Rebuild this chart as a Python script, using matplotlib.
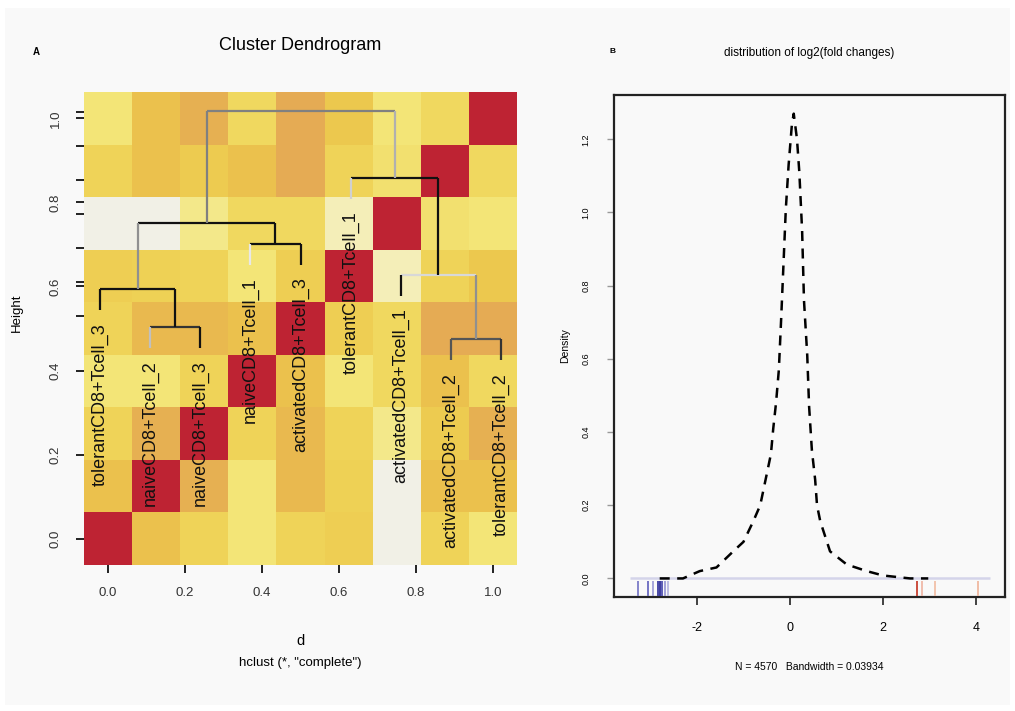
import numpy as np
import matplotlib.pyplot as plt
from matplotlib.colors import LinearSegmentedColormap
from matplotlib.patches import Rectangle

plt.rcParams['font.family'] = ['Liberation Sans', 'DejaVu Sans']
plt.rcParams['axes.unicode_minus'] = False

# sample correlation matrix (heatmap, row 0 drawn at the bottom)
cor_mat = [
    [1.00, 0.93, 0.90, 0.86, 0.90, 0.91, 0.80, 0.90, 0.86],
    [0.93, 1.00, 0.96, 0.86, 0.94, 0.905, 0.80, 0.93, 0.93],
    [0.90, 0.96, 1.00, 0.90, 0.94, 0.90, 0.85, 0.915, 0.96],
    [0.86, 0.86, 0.90, 1.00, 0.93, 0.86, 0.89, 0.93, 0.89],
    [0.90, 0.94, 0.94, 0.93, 1.00, 0.91, 0.89, 0.97, 0.97],
    [0.91, 0.905, 0.90, 0.86, 0.91, 1.00, 0.83, 0.90, 0.92],
    [0.80, 0.80, 0.85, 0.89, 0.89, 0.83, 1.00, 0.87, 0.86],
    [0.90, 0.93, 0.915, 0.93, 0.97, 0.90, 0.87, 1.00, 0.89],
    [0.86, 0.93, 0.96, 0.89, 0.97, 0.92, 0.86, 0.89, 1.00],
]
heat_ticks = [0.0, 0.2, 0.4, 0.6, 0.8, 1.0]

# hclust result, leaves in plotting order
leaf_labels = ["tolerantCD8+Tcell_3", "naiveCD8+Tcell_2", "naiveCD8+Tcell_3",
               "naiveCD8+Tcell_1", "activatedCD8+Tcell_3", "tolerantCD8+Tcell_1",
               "activatedCD8+Tcell_1", "activatedCD8+Tcell_2", "tolerantCD8+Tcell_2"]
merge = [(-2, -3), (-1, 1), (-4, -5), (2, 3), (-8, -9), (-7, 5), (-6, 6), (4, 7)]
merge_height = [0.468, 0.579, 0.712, 0.774, 0.432, 0.621, 0.906, 1.103]
hang = 0.062
height_ticks = [0.5, 0.6, 0.7, 0.8, 0.9, 1.0, 1.1]

# density of log2 fold changes
dens_x = [-2.80, -2.30, -1.94, -1.58, -1.22, -1.00, -0.79, -0.64, -0.50, -0.41,
          -0.36, -0.30, -0.24, -0.19, -0.15, -0.09, -0.03, 0.04, 0.08, 0.15,
          0.20, 0.26, 0.30, 0.37, 0.41, 0.47, 0.54, 0.58, 0.65, 0.86,
          1.22, 1.65, 2.00, 2.58, 2.97]
dens_y = [0.0, 0.0, 0.02, 0.03, 0.074, 0.10, 0.156, 0.20, 0.285, 0.34,
          0.41, 0.48, 0.57, 0.71, 0.83, 1.01, 1.13, 1.24, 1.27, 1.20,
          1.11, 0.95, 0.76, 0.61, 0.47, 0.35, 0.27, 0.20, 0.156, 0.074,
          0.038, 0.02, 0.008, 0.0, 0.0]
fc_range = [-3.44, 4.30]
rug_down = [-3.27, -3.05, -2.95, -2.84, -2.80, -2.76, -2.69, -2.62]
rug_up = [2.73, 2.84, 3.12, 4.04]
rug_down_col = ['#7b7bc8', '#6a6ac0', '#a0a0d8', '#3a3aa0', '#2e2e98', '#5050b0', '#9a9ad6', '#b8b8e2']
rug_up_col = ['#c84030', '#f0b8a8', '#f2c0a8', '#f0b8a0']

fig = plt.figure(figsize=(10.15, 7.11), dpi=100)
fig.patch.set_facecolor('white')
fig.add_artist(Rectangle((0.005, 0.008), 0.99, 0.981, transform=fig.transFigure,
                         facecolor='#f9f9f9', edgecolor='none', zorder=-10))

# ---- left: correlation heatmap with dendrogram on top ----
rect = [0.0828, 0.2053, 0.4266, 0.6653]
ax = fig.add_axes(rect)
ax.set_facecolor('none')
cmap = LinearSegmentedColormap.from_list('corr', [
    (0.0, '#F1F0E6'), (0.15, '#F4EEB8'), (0.28, '#F3E67A'), (0.48, '#EFD65A'),
    (0.62, '#ECC64C'), (0.72, '#E8B650'), (0.88, '#E4A955'), (0.93, '#BE2333'),
    (1.0, '#BE2333')])
n = len(cor_mat)
edges = np.linspace(-0.5 / (n - 1), 1 + 0.5 / (n - 1), n + 1)
ax.pcolormesh(edges, edges, np.array(cor_mat), cmap=cmap, vmin=0.80, vmax=1.0)
ax.set_xlim(edges[0], edges[-1])
ax.set_ylim(edges[0], edges[-1])
for s in ax.spines.values():
    s.set_visible(False)
ax.set_xticks(heat_ticks)
ax.set_xticklabels([f"{t:.1f}" for t in heat_ticks])
ax.set_yticks(heat_ticks)
ax.set_yticklabels([f"{t:.1f}" for t in heat_ticks], rotation=90, va='center')
ax.tick_params(length=6, width=1.4, color='#222222', labelsize=9.5,
               labelcolor='#333333', pad=10)

# dendrogram drawn in its own Height coordinates over the heatmap
dax = fig.add_axes(rect)
dax.patch.set_visible(False)
for s in dax.spines.values():
    s.set_visible(False)
dax.set_xlim(1 - 0.04 * (n - 1), n + 0.04 * (n - 1))
dax.set_ylim(-0.232, 1.159)
dax.set_xticks([])
dax.set_yticks(height_ticks)
dax.set_yticklabels([])
dax.tick_params(axis='y', length=6, width=1.4, color='#222222')

seg_cols = [('#333333', '#c0c0c0', '#111111'),
            ('#111111', '#111111', '#111111'),
            ('#111111', '#e8e8e8', '#111111'),
            ('#111111', '#909090', '#111111'),
            ('#555555', '#555555', '#333333'),
            ('#d8d8d8', '#111111', '#909090'),
            ('#111111', '#d0d0d0', '#111111'),
            ('#808080', '#808080', '#b0b0b0')]
node_x = {}
parent_h = {}
for i, (a, b) in enumerate(merge, start=1):
    h = merge_height[i - 1]
    xs, tops = [], []
    for c in (a, b):
        if c < 0:
            xs.append(float(-c))
            tops.append(h - hang)
            parent_h[-c] = h
        else:
            xs.append(node_x[c])
            tops.append(merge_height[c - 1])
    node_x[i] = (xs[0] + xs[1]) / 2
    hc, lc, rc = seg_cols[i - 1]
    dax.plot(xs, [h, h], color=hc, lw=1.6, solid_capstyle='butt')
    dax.plot([xs[0], xs[0]], [h, tops[0]], color=lc, lw=1.6, solid_capstyle='butt')
    dax.plot([xs[1], xs[1]], [h, tops[1]], color=rc, lw=1.6, solid_capstyle='butt')

for k, lab in enumerate(leaf_labels, start=1):
    dax.annotate(lab, (k, parent_h[k] - hang), xytext=(0, -9),
                 textcoords='offset points', rotation=90, ha='center', va='top',
                 fontsize=13, color='#111111')

fig.text(0.2961, 0.936, "Cluster Dendrogram", ha='center', va='center', fontsize=13)
fig.text(0.2961, 0.099, "d", ha='center', va='center', fontsize=10.5)
fig.text(0.2961, 0.068, 'hclust (*, "complete")', ha='center', va='center', fontsize=9.5)
fig.text(0.017, 0.56, "Height", rotation=90, ha='center', va='center', fontsize=9.5)
fig.text(0.036, 0.927, "A", ha='center', va='center', fontsize=7, fontweight='bold')

# ---- right: density of fold changes ----
bx = fig.add_axes([0.605, 0.1603, 0.3852, 0.706])
bx.set_facecolor('none')
bx.hlines(0, fc_range[0], fc_range[1], color='#d4d4ea', lw=1.8, zorder=1)
bx.plot(dens_x, dens_y, color='black', lw=1.8, dashes=(4, 3), zorder=2)
bx.vlines(rug_down, -0.049, -0.008, colors=rug_down_col, lw=1.3, zorder=3)
bx.vlines(rug_up, -0.049, -0.008, colors=rug_up_col, lw=1.3, zorder=3)
bx.set_xlim(-3.78, 4.62)
bx.set_ylim(-0.0508, 1.3208)
for s in bx.spines.values():
    s.set_linewidth(1.6)
    s.set_color('#222222')
bx.set_xticks([-2, 0, 2, 4])
bx.set_xticklabels(["-2", "0", "2", "4"])
yt = [0.0, 0.2, 0.4, 0.6, 0.8, 1.0, 1.2]
bx.set_yticks(yt)
bx.set_yticklabels([f"{t:.1f}" for t in yt], rotation=90, va='center')
bx.tick_params(axis='x', length=6, width=1.3, labelsize=9, pad=12, color='#333333')
bx.tick_params(axis='y', length=5, width=1.0, labelsize=6.5, pad=12, color='#999999')
bx.set_ylabel("Density", fontsize=7.5, labelpad=8)
bx.set_xlabel("N = 4570   Bandwidth = 0.03934", fontsize=7.5, labelpad=20)
bx.set_title("distribution of log2(fold changes)", fontsize=8.5, pad=28)
fig.text(0.603, 0.928, "B", ha='center', va='center', fontsize=6, fontweight='bold')

fig.savefig("out.png", dpi=100, facecolor=fig.get_facecolor())
